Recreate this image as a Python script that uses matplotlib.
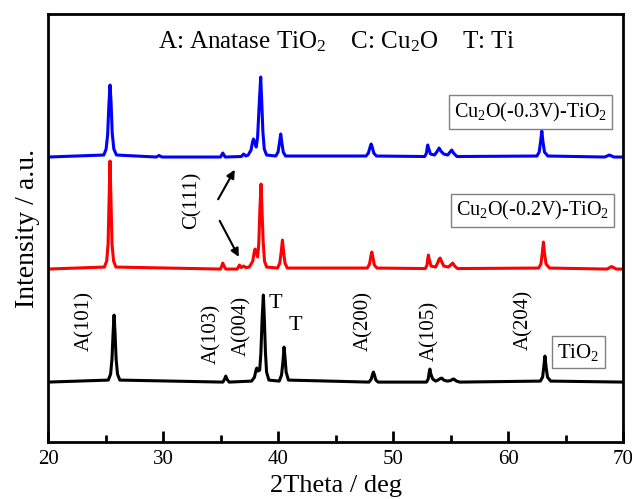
import matplotlib
matplotlib.use('Agg')
import matplotlib.pyplot as plt
from matplotlib.ticker import MultipleLocator

plt.rcParams['font.family'] = ['Liberation Serif', 'DejaVu Serif']
plt.rcParams['mathtext.fontset'] = 'custom'
plt.rcParams['mathtext.rm'] = 'Liberation Serif'
plt.rcParams['mathtext.it'] = 'Liberation Serif:italic'

# 2Theta (deg) / relative intensity (a.u.), one line per peak group
# TiO2
tio2_x = [20.0,
          25.24, 25.44, 25.56, 25.66, 25.74, 25.82, 25.92, 26.04, 26.24,
          35.2, 35.35, 35.45, 35.55, 35.75,
          37.7, 37.95, 38.08, 38.15, 38.25, 38.4, 38.5, 38.62, 38.72, 38.8, 38.9, 39.0, 39.2,
          40.1, 40.3, 40.42, 40.52, 40.6, 40.7, 40.9,
          47.9, 48.1, 48.22, 48.29, 48.38, 48.5, 48.7,
          52.9, 53.05, 53.14, 53.2, 53.28, 53.45, 53.7, 53.9, 54.1, 54.23, 54.4, 54.7,
          55.0, 55.2, 55.3, 55.5, 55.8,
          62.8, 63.0, 63.1, 63.2, 63.3, 63.42, 63.7,
          70.0]
tio2_y = [0,
          2, 8, 23, 50, 67, 50, 23, 8, 2,
          0, 3, 6, 3, 0,
          1, 5, 12, 14, 11, 12, 28, 65, 87, 65, 30, 10, 2,
          1, 7, 20, 35, 25, 10, 2,
          0, 3, 8, 10, 7, 2, 0,
          0, 3, 10, 13, 8, 3, 1, 2, 3.5, 4, 2, 1,
          1.5, 3, 3, 1, 0,
          1, 5, 15, 26, 15, 5, 1,
          0]

# Cu2O(-0.2V)-TiO2
cu02_x = [20.0,
          24.9, 25.1, 25.22, 25.31, 25.39, 25.47, 25.56, 25.7, 25.9,
          35.0, 35.1, 35.19, 35.3, 35.45,
          36.45, 36.64, 36.8, 37.0, 37.2,
          37.5, 37.8, 37.93, 38.0, 38.1, 38.22, 38.32, 38.42, 38.52, 38.6, 38.7, 38.82, 39.0,
          39.95, 40.15, 40.28, 40.38, 40.47, 40.6, 40.8,
          47.75, 47.95, 48.07, 48.15, 48.24, 48.37, 48.6,
          52.8, 52.95, 53.02, 53.07, 53.13, 53.3, 53.7, 53.9, 54.0, 54.09, 54.2, 54.4,
          54.8, 55.0, 55.19, 55.35, 55.6,
          62.65, 62.85, 62.97, 63.07, 63.16, 63.3, 63.6,
          68.6, 69.0, 69.4, 70.0]
cu02_y = [0,
          2, 8, 25, 70, 108, 70, 25, 8, 2,
          0, 3, 6, 3, 0,
          0, 4, 1.5, 3, 1.5,
          2, 8, 17, 20, 16, 12, 25, 60, 85, 60, 28, 8, 2,
          1, 6, 18, 29, 18, 6, 1,
          1, 5, 13, 17, 12, 4, 1,
          0.5, 4, 11, 14, 10, 3, 2, 7, 10, 11, 8, 3,
          2, 4, 6, 3, 0.5,
          1, 5, 16, 27, 16, 5, 1,
          0, 2.5, 0, 0]

# Cu2O(-0.3V)-TiO2
cu03_x = [20.0,
          24.85, 25.05, 25.18, 25.29, 25.39, 25.48, 25.58, 25.72, 25.95,
          29.4, 29.65, 29.9,
          35.0, 35.19, 35.4,
          36.8, 37.0, 37.2,
          37.4, 37.65, 37.78, 37.86, 37.96, 38.1, 38.22, 38.37, 38.49, 38.58, 38.68, 38.8, 39.0,
          39.8, 40.0, 40.13, 40.23, 40.32, 40.45, 40.65,
          47.65, 47.85, 48.0, 48.09, 48.18, 48.32, 48.55,
          52.75, 52.9, 52.96, 53.01, 53.08, 53.25, 53.6, 53.85, 54.0, 54.15, 54.4,
          54.75, 54.95, 55.1, 55.25, 55.55,
          62.5, 62.7, 62.83, 62.93, 63.02, 63.16, 63.45,
          68.4, 68.8, 69.2, 70.0]
cu03_y = [0,
          2, 8, 22, 52, 72, 55, 24, 8, 2,
          0, 1.5, 0,
          0, 4, 0,
          0.5, 3, 1,
          2, 7, 15, 18, 15, 10, 20, 55, 80, 55, 25, 8, 2,
          1, 5, 15, 23, 15, 5, 1,
          1, 4, 10, 13, 10, 4, 1,
          0.5, 4, 9, 12, 9, 3, 2, 6, 9, 6, 3,
          2, 5, 7, 4, 0.5,
          1, 5, 16, 26, 16, 5, 1,
          0, 2, 0, 0]

# peak labels on the TiO2 pattern
peak_labels = ['A(101)', 'A(103)', 'A(004)', 'A(200)', 'A(105)', 'A(204)']
peak_label_x = [23.2, 34.23, 36.84, 47.42, 53.2, 61.33]
peak_label_y = [121, 108, 116, 121, 111, 122]

fig = plt.figure(figsize=(6.32, 4.99), dpi=100)
ax = fig.add_axes([0.076, 0.114, 0.910, 0.858])

# vertical offsets of the stacked patterns
ax.plot(tio2_x, [v + 60 for v in tio2_y], color='black', lw=2.2)
ax.plot(cu02_x, [v + 173 for v in cu02_y], color='red', lw=2.2)
ax.plot(cu03_x, [v + 285 for v in cu03_y], color='blue', lw=2.2)

ax.set_xlim(20, 70)
ax.set_ylim(0, 428)
ax.set_yticks([])
ax.xaxis.set_major_locator(MultipleLocator(10))
ax.xaxis.set_minor_locator(MultipleLocator(5))
ax.tick_params(axis='x', which='major', direction='in', length=8, width=2,
               labelsize=15, pad=6)
ax.tick_params(axis='x', which='minor', direction='in', length=5, width=2)
for sp in ax.spines.values():
    sp.set_linewidth(2)

ax.set_xlabel('2Theta / deg', fontsize=19, labelpad=4)
ax.set_ylabel('Intensity / a.u.', fontsize=20, labelpad=6)

ax.text(45.1, 400, 'A: Anatase TiO$_2$    C: Cu$_2$O    T: Ti', fontsize=18,
        ha='center', va='center')

for lab, x, y in zip(peak_labels, peak_label_x, peak_label_y):
    ax.text(x, y, lab, rotation=90, fontsize=15, ha='center', va='center')
ax.text(39.74, 139, 'T', fontsize=16, ha='center', va='center')
ax.text(41.48, 117, 'T', fontsize=16, ha='center', va='center')

box = dict(boxstyle='square,pad=0.25', fc='white', ec='gray', lw=1)
ax.text(66.1, 90, 'TiO$_2$', fontsize=15, ha='center', va='center', bbox=box)
ax.text(62.13, 231.5, 'Cu$_2$O(-0.2V)-TiO$_2$', fontsize=14.5, ha='center',
        va='center', bbox=box)
ax.text(61.96, 330, 'Cu$_2$O(-0.3V)-TiO$_2$', fontsize=14.5, ha='center',
        va='center', bbox=box)

ax.text(32.5, 242, 'C(111)', rotation=90, fontsize=15, ha='center', va='center')
arrow = dict(arrowstyle='-|>', color='black', lw=1.5, mutation_scale=12)
ax.annotate('', xy=(36.35, 274.7), xytext=(34.67, 240.3), arrowprops=arrow)
ax.annotate('', xy=(36.7, 182.7), xytext=(34.81, 223.7), arrowprops=arrow)

fig.savefig('out.png', dpi=100)
